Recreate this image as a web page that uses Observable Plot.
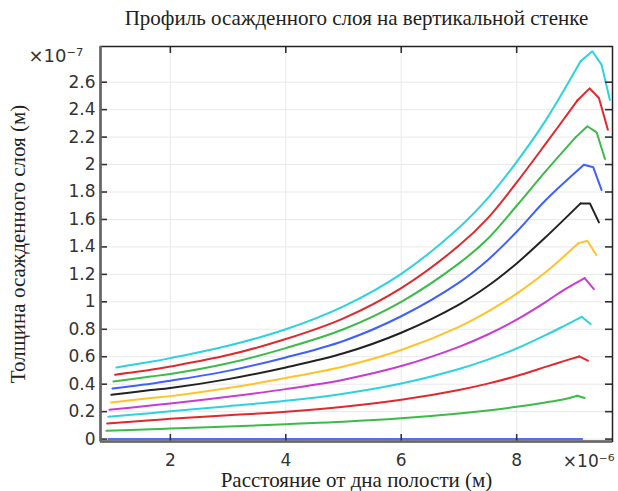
<!DOCTYPE html>
<html>
<head>
<meta charset="utf-8">
<script src="https://cdn.jsdelivr.net/npm/d3@7"></script>
<script src="https://cdn.jsdelivr.net/npm/@observablehq/plot@0.6"></script>
<style>
  html, body { margin: 0; padding: 0; background: #fff; }
</style>
</head>
<body>
<div id="chart"></div>
<script>
// ---- texts ----
const titleText = "Профиль осажденного слоя на вертикальной стенке";
const xLabel = "Расстояние от дна полости (м)";
const yLabel = "Толщина осажденного слоя (м)";
const xExponent = "×10⁻⁶";
const yExponent = "×10⁻⁷";

// ---- ticks (in units of the exponents) ----
const xTicks = [2, 4, 6, 8];
const yTicks = [0, 0.2, 0.4, 0.6, 0.8, 1, 1.2, 1.4, 1.6, 1.8, 2, 2.2, 2.4, 2.6];
const xDomain = [0.79, 9.66];
const yDomain = [-0.0175, 2.86];

// ---- series (x in 1e-6 m, y in 1e-7 m), top curve first ----
const cyan1X  = [1.066, 1.66, 2, 3, 4, 5, 6, 7, 7.5, 8, 8.5, 9.107, 9.31, 9.47, 9.615];
const cyan1Y  = [0.522, 0.563, 0.590, 0.680, 0.800, 0.967, 1.204, 1.540, 1.755, 2.020, 2.320, 2.752, 2.825, 2.728, 2.471];
const red1X   = [1.043, 1.66, 2, 3, 4, 5, 6, 7, 7.5, 8, 8.5, 9.05, 9.264, 9.425, 9.58];
const red1Y   = [0.469, 0.505, 0.529, 0.612, 0.729, 0.880, 1.100, 1.410, 1.610, 1.870, 2.150, 2.466, 2.555, 2.485, 2.254];
const green1X = [1.014, 1.66, 2, 3, 4, 5, 6, 7, 7.5, 8, 8.5, 9.02, 9.224, 9.385, 9.53];
const green1Y = [0.420, 0.456, 0.474, 0.552, 0.663, 0.800, 1.000, 1.280, 1.460, 1.700, 1.950, 2.198, 2.279, 2.235, 2.040];
const blue1X  = [0.997, 1.66, 2, 3, 4, 5, 6, 7, 7.5, 8, 8.5, 9.165, 9.327, 9.47];
const blue1Y  = [0.369, 0.403, 0.425, 0.497, 0.595, 0.715, 0.895, 1.140, 1.305, 1.510, 1.740, 1.999, 1.980, 1.815];
const blackX  = [0.979, 1.66, 2, 3, 4, 5, 6, 7, 7.5, 8, 8.5, 9.107, 9.268, 9.425];
const blackY  = [0.323, 0.357, 0.372, 0.437, 0.522, 0.625, 0.775, 0.980, 1.115, 1.280, 1.470, 1.717, 1.717, 1.579];
const yellowX = [0.974, 1.66, 2, 3, 4, 5, 6, 7, 7.5, 8, 8.5, 9.067, 9.224, 9.38];
const yellowY = [0.267, 0.299, 0.313, 0.372, 0.445, 0.529, 0.649, 0.818, 0.928, 1.060, 1.215, 1.426, 1.445, 1.341];
const magentaX = [0.945, 1.66, 2, 3, 4, 5, 6, 7, 7.5, 8, 8.5, 8.8, 9.177, 9.338];
const magentaY = [0.214, 0.244, 0.260, 0.308, 0.364, 0.433, 0.532, 0.672, 0.762, 0.870, 0.998, 1.082, 1.173, 1.093];
const cyan2X  = [0.927, 1.66, 2, 3, 4, 5, 6, 7, 7.5, 8, 8.5, 8.8, 9.125, 9.28];
const cyan2Y  = [0.163, 0.189, 0.203, 0.240, 0.279, 0.331, 0.405, 0.511, 0.579, 0.660, 0.757, 0.820, 0.891, 0.838];
const red2X   = [0.905, 1.66, 2, 3, 4, 5, 6, 7, 7.5, 8, 8.5, 8.8, 9.085, 9.234];
const red2Y   = [0.114, 0.137, 0.148, 0.173, 0.199, 0.235, 0.286, 0.358, 0.404, 0.460, 0.526, 0.566, 0.602, 0.571];
const green2X = [0.893, 1.66, 2, 3, 4, 5, 6, 7, 7.5, 8, 8.5, 8.8, 9.05, 9.177];
const green2Y = [0.060, 0.071, 0.077, 0.091, 0.109, 0.126, 0.151, 0.186, 0.208, 0.235, 0.267, 0.289, 0.316, 0.299];
const blue0X  = [0.927, 9.13];
const blue0Y  = [0, 0];

const seriesX = [cyan1X, red1X, green1X, blue1X, blackX, yellowX, magentaX, cyan2X, red2X, green2X, blue0X];
const seriesY = [cyan1Y, red1Y, green1Y, blue1Y, blackY, yellowY, magentaY, cyan2Y, red2Y, green2Y, blue0Y];
// index of the point where the smooth rise ends and the sharp end segment begins
const kinkIndex = [11, 11, 11, 11, 11, 11, 12, 12, 12, 12, 1];
const seriesColors = ["#2dd3db", "#e0282d", "#3cba4a", "#3f5fff", "#222222", "#ffc32a",
                      "#c83cd2", "#2dd3db", "#e0282d", "#3cba4a", "#4f6ff5"];

// ---- geometry helpers ----
const W = 618, H = 491;
const mL = 100, mR = 6, mT = 46, mB = 50;
const tickPx = 7;
const txLen = tickPx * (xDomain[1] - xDomain[0]) / (W - mL - mR);
const tyLen = tickPx * (yDomain[1] - yDomain[0]) / (H - mT - mB);

const sans = "DejaVu Sans";
const serif = "Liberation Serif";
const fmt = d => String(+d.toFixed(1));

const lineMarks = seriesX.flatMap((xs, i) => {
  const pts = xs.map((x, j) => ({x, y: seriesY[i][j]}));
  const k = kinkIndex[i];
  const common = {x: "x", y: "y", stroke: seriesColors[i], strokeWidth: 2,
                  strokeLinejoin: "round", strokeLinecap: "round"};
  return [
    Plot.line(pts.slice(0, k + 1), {...common, curve: "catmull-rom"}),
    Plot.line(pts.slice(k), {...common, curve: "linear"})
  ];
});

const chart = Plot.plot({
  width: W, height: H,
  marginLeft: mL, marginRight: mR, marginTop: mT, marginBottom: mB,
  style: {background: "#fff", overflow: "visible"},
  x: {domain: xDomain, axis: null},
  y: {domain: yDomain, axis: null},
  marks: [
    Plot.ruleX(xTicks, {x: d => d, stroke: "#e9e9e9", strokeWidth: 1}),
    Plot.ruleY(yTicks, {y: d => d, stroke: "#e9e9e9", strokeWidth: 1}),
    ...lineMarks,
    // inward tick marks on all four sides
    Plot.ruleX(xTicks, {x: d => d, y1: () => yDomain[0], y2: () => yDomain[0] + tyLen, stroke: "#333", strokeWidth: 1.6}),
    Plot.ruleX(xTicks, {x: d => d, y1: () => yDomain[1], y2: () => yDomain[1] - tyLen, stroke: "#333", strokeWidth: 1.6}),
    Plot.ruleY(yTicks, {y: d => d, x1: () => xDomain[0], x2: () => xDomain[0] + txLen, stroke: "#333", strokeWidth: 1.6}),
    Plot.ruleY(yTicks, {y: d => d, x1: () => xDomain[1], x2: () => xDomain[1] - txLen, stroke: "#333", strokeWidth: 1.6}),
    Plot.frame({stroke: "#222", strokeWidth: 1.5}),
    Plot.ruleX([xDomain[0]], {stroke: "#666", strokeWidth: 2.6}),
    Plot.ruleY([yDomain[0]], {stroke: "#666", strokeWidth: 2.6}),
    Plot.axisY({ticks: yTicks, tickSize: 0, tickPadding: 5, tickFormat: fmt, label: null,
      fontFamily: sans, fontSize: 17, fill: "#333"}),
    Plot.axisX({ticks: xTicks, tickSize: 0, tickPadding: 12, tickFormat: fmt, label: null,
      fontFamily: sans, fontSize: 17, fill: "#333"}),
    Plot.text([yExponent], {frameAnchor: "top-left", dx: -72, dy: 10, textAnchor: "start",
      text: d => d, fontFamily: sans, fontSize: 18, fill: "#333", lineAnchor: "middle"}),
    Plot.text([xExponent], {frameAnchor: "bottom-right", dx: 2, dy: 20, textAnchor: "end",
      text: d => d, fontFamily: sans, fontSize: 17, fill: "#333", lineAnchor: "middle"}),
    Plot.text([titleText], {frameAnchor: "top", dy: -28, text: d => d, textAnchor: "middle",
      fontFamily: serif, fontSize: 21, fill: "#222", lineAnchor: "middle"}),
    Plot.text([xLabel], {frameAnchor: "bottom", dy: 39, text: d => d, textAnchor: "middle",
      fontFamily: serif, fontSize: 21, fill: "#222", lineAnchor: "middle"}),
    Plot.text([yLabel], {frameAnchor: "left", dx: -82, rotate: -90, text: d => d, textAnchor: "middle",
      fontFamily: serif, fontSize: 21, fill: "#222", lineAnchor: "middle"})
  ]
});
document.getElementById("chart").appendChild(chart);
</script>
</body>
</html>
